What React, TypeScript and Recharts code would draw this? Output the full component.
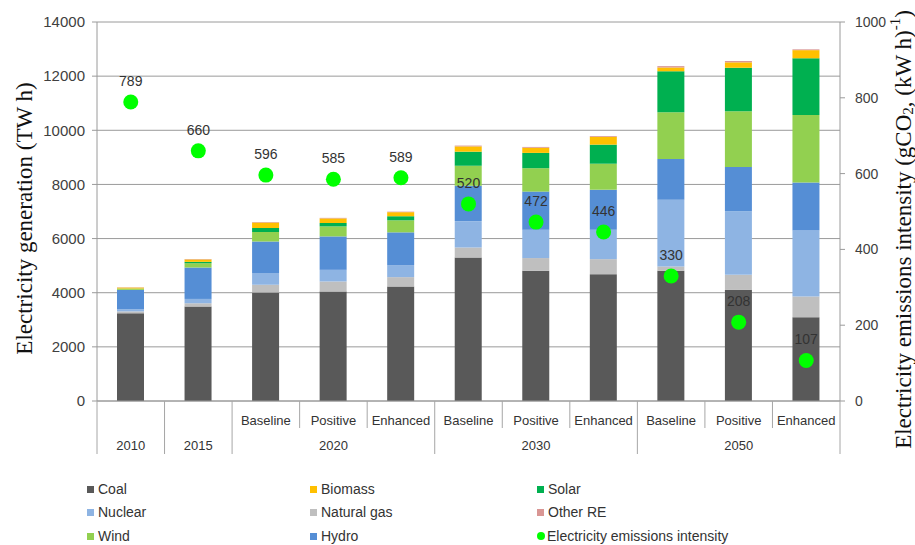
import React from 'react';
import { ComposedChart, Bar, Line, XAxis, YAxis, CartesianGrid, LabelList, Label } from 'recharts';

const categories = ['2010', '2015', '2020 Baseline', '2020 Positive', '2020 Enhanced', '2030 Baseline', '2030 Positive', '2030 Enhanced', '2050 Baseline', '2050 Positive', '2050 Enhanced'];
const scenarioLabels = ['', '', 'Baseline', 'Positive', 'Enhanced', 'Baseline', 'Positive', 'Enhanced', 'Baseline', 'Positive', 'Enhanced'];
const yearLabels = ['2010', '2015', '2020', '2020', '2020', '2030', '2030', '2030', '2050', '2050', '2050'];

const coal = [3240, 3490, 4010, 4045, 4230, 5300, 4810, 4685, 4810, 4105, 3095];
const naturalGas = [70, 120, 285, 370, 345, 370, 470, 555, 160, 555, 765];
const nuclear = [80, 160, 430, 430, 445, 975, 1050, 1085, 2465, 2345, 2440];
const hydro = [715, 1160, 1170, 1235, 1210, 1305, 1405, 1480, 1505, 1640, 1775];
const wind = [45, 160, 345, 370, 445, 740, 865, 960, 1725, 2060, 2490];
const solar = [5, 50, 150, 125, 150, 520, 565, 705, 1515, 1605, 2095];
const biomass = [35, 90, 200, 170, 150, 195, 190, 290, 140, 200, 300];
const otherRE = [10, 15, 20, 20, 20, 30, 30, 30, 50, 50, 30];
const emissions = [789, 660, 596, 585, 589, 520, 472, 446, 330, 208, 107];

const leftTicks = [0, 2000, 4000, 6000, 8000, 10000, 12000, 14000];
const rightTicks = [0, 200, 400, 600, 800, 1000];

const series = [
  { key: 'coal', name: 'Coal', color: '#595959', values: coal },
  { key: 'gas', name: 'Natural gas', color: '#BFBFBF', values: naturalGas },
  { key: 'nuclear', name: 'Nuclear', color: '#8EB4E3', values: nuclear },
  { key: 'hydro', name: 'Hydro', color: '#558ED5', values: hydro },
  { key: 'wind', name: 'Wind', color: '#92D050', values: wind },
  { key: 'solar', name: 'Solar', color: '#00B050', values: solar },
  { key: 'biomass', name: 'Biomass', color: '#FFC000', values: biomass },
  { key: 'other', name: 'Other RE', color: '#D99694', values: otherRE },
];
const EMISSION_COLOR = '#00FF00';

const legendOrder = ['Coal', 'Biomass', 'Solar', 'Nuclear', 'Natural gas', 'Other RE', 'Wind', 'Hydro', 'Electricity emissions intensity'];

const data = categories.map((c, i) => {
  const row: any = { cat: c, emission: emissions[i] };
  series.forEach((s) => { row[s.key] = s.values[i]; });
  return row;
});

const W = 915;
const H = 545;
const LEFT_W = 97;
const RIGHT_W = 75;
const TOP = 22;
const HALF_BAND = (W - LEFT_W - RIGHT_W) / categories.length / 2;
const SANS = 'Arial, "Liberation Sans", sans-serif';
const SERIF = '"Liberation Serif", "Times New Roman", serif';
const SEP = '#a6a6a6';

const isGroupStart = (i: number) => i === 0 || yearLabels[i] !== yearLabels[i - 1];
const isGroupMiddle = (i: number) => {
  let start = i;
  while (start > 0 && yearLabels[start - 1] === yearLabels[i]) start--;
  let end = i;
  while (end < yearLabels.length - 1 && yearLabels[end + 1] === yearLabels[i]) end++;
  return i === Math.floor((start + end) / 2);
};

const CategoryTick = (props: any) => {
  const { x, y, payload } = props;
  const i = payload.index;
  const left = x - HALF_BAND;
  const right = x + HALF_BAND;
  const last = i === categories.length - 1;
  return (
    <g>
      <line x1={left} x2={left} y1={y} y2={isGroupStart(i) ? y + 53 : y + 27} stroke={SEP} strokeWidth={1} />
      {last && <line x1={right} x2={right} y1={y} y2={y + 53} stroke={SEP} strokeWidth={1} />}
      {scenarioLabels[i] && (
        <text x={x} y={y + 24} textAnchor="middle" fontSize={13} fontFamily={SANS} fill="#333">{scenarioLabels[i]}</text>
      )}
      {isGroupMiddle(i) && (
        <text x={x} y={y + 49} textAnchor="middle" fontSize={13} fontFamily={SANS} fill="#333">{yearLabels[i]}</text>
      )}
    </g>
  );
};

const LeftTitle = (props: any) => {
  const vb = props.viewBox;
  const cx = vb.x + 24;
  const cy = vb.y + vb.height / 2 + 7;
  return (
    <text x={cx} y={cy} transform={`rotate(-90 ${cx} ${cy})`} textAnchor="middle" dominantBaseline="central" fontSize={23} fontFamily={SERIF} fill="#111">
      Electricity generation (TW h)
    </text>
  );
};

const RightTitle = (props: any) => {
  const vb = props.viewBox;
  const cx = vb.x + 63;
  const cy = vb.y + vb.height / 2 + 18;
  return (
    <text x={cx} y={cy} transform={`rotate(-90 ${cx} ${cy})`} textAnchor="middle" dominantBaseline="central" fontSize={23} fontFamily={SERIF} fill="#111">
      Electricity emissions intensity (gCO<tspan fontSize={15} dy={5}>2</tspan><tspan dy={-5}>, (kW h)</tspan><tspan fontSize={15} dy={-8}>-1</tspan><tspan dy={8}>)</tspan>
    </text>
  );
};

const EmissionDot = (props: any) => {
  const { cx, cy } = props;
  if (cx == null || cy == null) return null;
  return <circle cx={cx} cy={cy} r={7.5} fill={EMISSION_COLOR} />;
};

const Legend3 = () => {
  const cols = [87, 310, 537];
  const rows = [489, 512, 536];
  return (
    <>
      {legendOrder.map((name, i) => {
        const col = i % 3;
        const row = Math.floor(i / 3);
        const s = series.find((x) => x.name === name);
        const isDot = !s;
        return (
          <div key={name} style={{ position: 'absolute', left: cols[col], top: rows[row] - 10, height: 20, display: 'flex', alignItems: 'center', fontFamily: SANS, fontSize: 14, color: '#333', whiteSpace: 'nowrap' }}>
            {isDot ? (
              <span style={{ display: 'inline-block', width: 8, height: 8, borderRadius: 4, background: EMISSION_COLOR, marginRight: 2 }} />
            ) : (
              <span style={{ display: 'inline-block', width: 7, height: 7, background: s!.color, marginRight: 4 }} />
            )}
            <span>{name}</span>
          </div>
        );
      })}
    </>
  );
};

export default function App() {
  return (
    <div style={{ position: 'absolute', left: 0, top: 0, width: W, height: H, background: '#fff', overflow: 'hidden' }}>
      <ComposedChart width={W} height={H} data={data} margin={{ top: TOP, right: 0, left: 0, bottom: 84 }} barSize={27}>
        <CartesianGrid vertical={false} stroke="#9a9a9a" yAxisId="left" />
        <XAxis dataKey="cat" interval={0} tickLine={false} tickSize={0} tickMargin={0} height={60} axisLine={{ stroke: '#9a9a9a' }} tick={<CategoryTick />} />
        <YAxis yAxisId="left" width={LEFT_W} domain={[0, 14000]} ticks={leftTicks} interval={0} axisLine={{ stroke: '#9a9a9a' }} tickLine={{ stroke: '#9a9a9a' }} tickSize={5} tickMargin={7} tick={{ fontSize: 15, fill: '#404040', fontFamily: SANS }}>
          <Label content={<LeftTitle />} />
        </YAxis>
        <YAxis yAxisId="right" orientation="right" width={RIGHT_W} domain={[0, 1000]} ticks={rightTicks} interval={0} axisLine={{ stroke: '#9a9a9a' }} tickLine={{ stroke: '#9a9a9a' }} tickSize={5} tickMargin={10} tick={{ fontSize: 14, fill: '#404040', fontFamily: SANS }}>
          <Label content={<RightTitle />} />
        </YAxis>
        {series.map((s) => (
          <Bar key={s.key} yAxisId="left" dataKey={s.key} name={s.name} stackId="gen" fill={s.color} isAnimationActive={false} />
        ))}
        <Line yAxisId="right" dataKey="emission" name="Electricity emissions intensity" stroke="none" dot={<EmissionDot />} activeDot={false} isAnimationActive={false}>
          <LabelList dataKey="emission" position="top" offset={16} fontSize={14} fontFamily={SANS} fill="#333" />
        </Line>
      </ComposedChart>
      <Legend3 />
    </div>
  );
}
